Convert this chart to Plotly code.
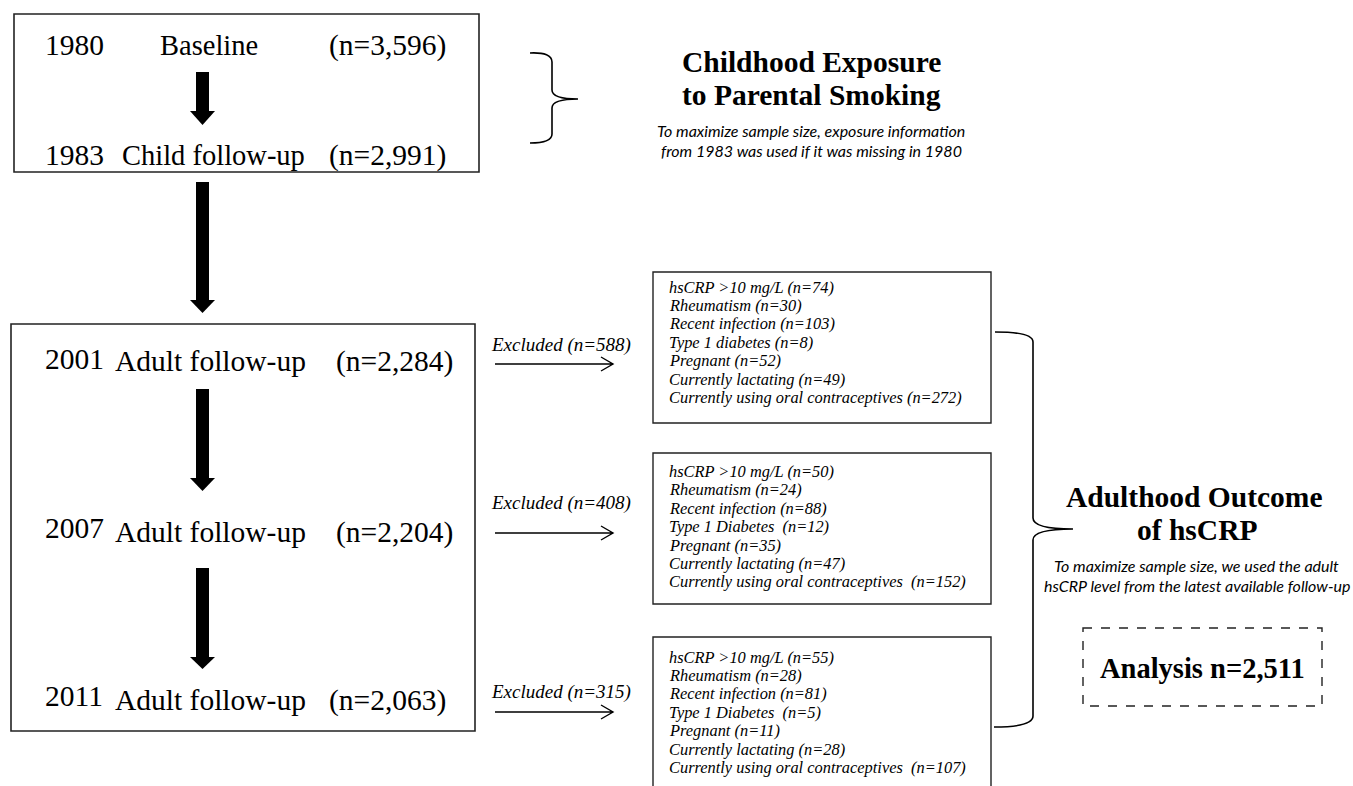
import plotly.graph_objects as go

# ---------------- data ----------------
years = ["1980", "1983", "2001", "2007", "2011"]
stage_labels = ["Baseline", "Child follow-up", "Adult follow-up", "Adult follow-up", "Adult follow-up"]
stage_n = ["3,596", "2,991", "2,284", "2,204", "2,063"]

excluded_n = ["588", "408", "315"]
reason_labels = [
    ["hsCRP >10 mg/L", "Rheumatism", "Recent infection", "Type 1 diabetes", "Pregnant",
     "Currently lactating", "Currently using oral contraceptives"],
    ["hsCRP >10 mg/L", "Rheumatism", "Recent infection", "Type 1 Diabetes ", "Pregnant",
     "Currently lactating", "Currently using oral contraceptives "],
    ["hsCRP >10 mg/L", "Rheumatism", "Recent infection", "Type 1 Diabetes ", "Pregnant",
     "Currently lactating", "Currently using oral contraceptives "],
]
reason_counts = [
    [74, 30, 103, 8, 52, 49, 272],
    [50, 24, 88, 12, 35, 47, 152],
    [55, 28, 81, 5, 11, 28, 107],
]
exposure_title = ["Childhood Exposure", "to Parental Smoking"]
exposure_note = ["To maximize sample size, exposure information",
                 "from 1983 was used if it was missing in 1980"]
outcome_title = ["Adulthood Outcome", "of hsCRP"]
outcome_note = ["To maximize sample size, we used the adult",
                "hsCRP level from the latest available follow-up"]
analysis_n = "2,511"

# ---------------- layout constants ----------------
W, H = 1353, 786
SERIF = "Liberation Serif"
SANS = "Lato"
MAIN_SIZE = 29.5

row_y_year = [45, 155, 359, 528, 696]
row_y_label = [45, 155, 361, 532, 700]
label_cx = [209, 213, 210, 210, 210]
label_size = [28.5, 28.5, 29.5, 29.5, 29.5]
n_right = [448, 448, 455, 455, 448]

excl_box = [(653, 272, 991, 423), (653, 453, 991, 604), (653, 637, 991, 800)]
excl_first_line = [287, 471.5, 657]
excl_line_step = 18.4
excl_text_y = [345, 503, 692]
excl_arrow_y = [364, 533, 712]

fig = go.Figure()
fig.add_trace(go.Scatter(x=[0, W], y=[0, H], mode="markers",
                         marker=dict(opacity=0), hoverinfo="skip", showlegend=False))

shapes = []
ann = []

def text(x, y, t, size, family=SERIF, xanchor="center", color="black"):
    ann.append(dict(x=x, y=y, xref="x", yref="y", text=t, showarrow=False,
                    xanchor=xanchor, yanchor="middle",
                    font=dict(family=family, size=size, color=color)))

# main boxes
shapes.append(dict(type="rect", x0=14, y0=14, x1=479, y1=172,
                   line=dict(color="#222", width=1.6), fillcolor="rgba(0,0,0,0)"))
shapes.append(dict(type="rect", x0=11, y0=324, x1=475, y1=731,
                   line=dict(color="#222", width=1.6), fillcolor="rgba(0,0,0,0)"))

for i in range(len(years)):
    text(43, row_y_year[i], years[i], MAIN_SIZE, xanchor="left")
    text(label_cx[i], row_y_label[i], stage_labels[i], label_size[i])
    text(n_right[i], row_y_label[i], f"(n={stage_n[i]})", MAIN_SIZE, xanchor="right")

# thick black arrows
def block_arrow(cx, y0, yhead, ytip):
    shapes.append(dict(type="rect", x0=cx - 6.5, x1=cx + 6.5, y0=y0, y1=yhead + 1,
                       fillcolor="black", line=dict(width=0)))
    shapes.append(dict(type="path",
                       path=f"M {cx-12.5},{yhead} L {cx+12.5},{yhead} L {cx},{ytip} Z",
                       fillcolor="black", line=dict(width=0)))

block_arrow(202.5, 72, 111, 125)
block_arrow(202.5, 182, 300, 313)
block_arrow(202.5, 389, 478, 491)
block_arrow(202.5, 568, 657, 669)

# exclusion arrows, labels, boxes
for k in range(3):
    ya = excl_arrow_y[k]
    shapes.append(dict(type="path",
                       path=f"M 495,{ya} L 613,{ya} M 601,{ya-7} L 613,{ya} L 601,{ya+7}",
                       line=dict(color="black", width=1.4)))
    text(489, excl_text_y[k], f"<i>Excluded (n={excluded_n[k]})</i>", 19, xanchor="left")
    x0, y0, x1, y1 = excl_box[k]
    shapes.append(dict(type="rect", x0=x0, y0=y0, x1=x1, y1=y1,
                       line=dict(color="#222", width=1.4), fillcolor="rgba(0,0,0,0)"))
    for j, (lab, c) in enumerate(zip(reason_labels[k], reason_counts[k])):
        text(667, excl_first_line[k] + j * excl_line_step,
             f"<i>{lab} (n={c})</i>", 16.4, xanchor="left")

# braces
shapes.append(dict(type="path",
                   path="M 530,53 Q 552,52 552,62 L 552,90 Q 552,99 578,99 "
                        "Q 552,99 552,108 L 552,134 Q 552,143 530,143",
                   line=dict(color="black", width=1.6)))
shapes.append(dict(type="path",
                   path="M 995,332 Q 1033,332 1033,342 L 1033,518 Q 1033,529 1073,529 "
                        "Q 1033,529 1033,540 L 1033,716 Q 1033,727 994,727",
                   line=dict(color="black", width=1.6)))

# right-side titles
text(811, 62, f"<b>{exposure_title[0]}</b>", 29.5)
text(811, 95, f"<b>{exposure_title[1]}</b>", 29.5)
text(811, 130, f"<i>{exposure_note[0]}</i>", 16, family=SANS)
text(811, 150, f"<i>{exposure_note[1]}</i>", 16, family=SANS)

text(1194, 497, f"<b>{outcome_title[0]}</b>", 29.5)
text(1197, 530, f"<b>{outcome_title[1]}</b>", 29.5)
text(1196, 565, f"<i>{outcome_note[0]}</i>", 16, family=SANS)
text(1197, 585, f"<i>{outcome_note[1]}</i>", 16, family=SANS)

shapes.append(dict(type="rect", x0=1083, y0=628, x1=1322, y1=706,
                   line=dict(color="#222", width=1.4, dash="dash"), fillcolor="rgba(0,0,0,0)"))
text(1202, 668, f"<b>Analysis n={analysis_n}</b>", 28.5)

fig.update_layout(
    width=W, height=H, margin=dict(l=0, r=0, t=0, b=0),
    paper_bgcolor="white", plot_bgcolor="white",
    xaxis=dict(range=[0, W], visible=False, fixedrange=True),
    yaxis=dict(range=[H, 0], visible=False, fixedrange=True),
    shapes=shapes, annotations=ann, showlegend=False,
)
fig.write_html("out.html", config={"displayModeBar": False},
               post_script="document.body.style.margin='0px';document.body.style.overflow='hidden';")
